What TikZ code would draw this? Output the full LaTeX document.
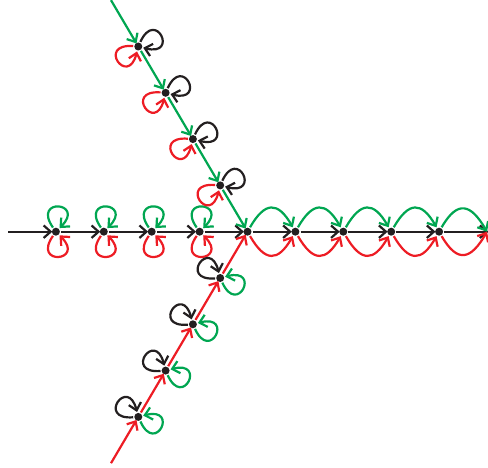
\documentclass[tikz,border=0pt]{standalone}
\usetikzlibrary{arrows.meta}

\definecolor{ggreen}{RGB}{0,166,81}
\definecolor{gred}{RGB}{237,28,36}
\definecolor{gblack}{RGB}{35,31,32}

\begin{document}
\begin{tikzpicture}[x=1pt, y=1pt, line width=2.2pt,
	>={Straight Barb[length=7pt, width=12.5pt]},
	vertex/.style={circle, fill=gblack, inner sep=0pt, minimum size=8pt},
	loopy/.style={min distance=37pt}]

  \useasboundingbox (0,0) rectangle (488,467);
  \clip (0,0) rectangle (488,467);

  \node[vertex, alias=w0, alias=e0, alias=n0, alias=s0] (o) at (247.5,235.3) {};

  \foreach \k in {1,...,4} {
	\node[vertex] (w\k) at ({247.5-47.9*\k},235.3) {};
	\node[vertex] (e\k) at ({247.5+47.9*\k},235.3) {};
	\node[vertex] (n\k) at ({247.5-27.3*\k},{235.3+46.3*\k}) {};
	\node[vertex] (s\k) at ({247.5-27.3*\k},{235.3-46.3*\k}) {};
  }
  % loose ends
  \coordinate (w5) at (8,235.3);
  \coordinate (e5) at (487,235.3);
  \coordinate (n5) at (111,466.8);
  \coordinate (s5) at (111,3.8);

  \foreach \k in {1,...,5} {
  	\pgfmathtruncatemacro{\prev}{\k - 1};
	\path[->, gblack, shorten >=-1.5pt] (w\k) edge (w\prev);
	\path[->, gblack, shorten >=-1.5pt] (e\prev) edge (e\k);
	\path[->, ggreen, shorten >=-1.5pt] (n\k) edge (n\prev);
	\path[->, gred, shorten >=-1.5pt] (s\k) edge (s\prev);
	% arcs on the right
	\path[->, ggreen] (e\prev) edge[out=60, in=120, looseness=1.8] (e\k);
	\path[->, gred] (e\prev) edge[out=-60, in=-120, looseness=1.8] (e\k);
  }

  % Draw loops
  \foreach \b/\dir/\lc/\rc in {w/0/ggreen/gred, n/-59.5/gblack/gred, s/59.5/gblack/ggreen} {
	\pgfmathsetmacro{\lout}{\dir+125}
	\pgfmathsetmacro{\lin}{\dir+45}
	\pgfmathsetmacro{\rout}{\dir-125}
	\pgfmathsetmacro{\rin}{\dir-45}
	\foreach \k in {1,...,4} {
	  \path[->, \lc] (\b\k) edge[loopy, out=\lout, in=\lin] (\b\k);
	  \path[->, \rc] (\b\k) edge[loopy, out=\rout, in=\rin] (\b\k);
	}
  }

\end{tikzpicture}
\end{document}
